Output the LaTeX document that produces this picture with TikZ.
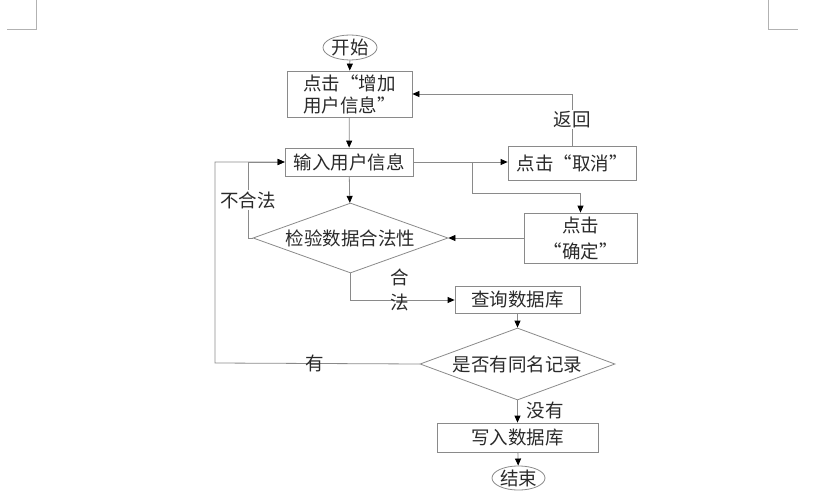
\documentclass[tikz,border=0pt]{standalone}
\usepackage{fontspec}
\setmainfont{Noto Sans CJK SC}
\usetikzlibrary{shapes.geometric,arrows.meta}
\definecolor{lc}{HTML}{8A8A8A}
\definecolor{tc}{HTML}{2A2A2A}
\begin{document}
\begin{tikzpicture}[x=1pt,y=-1pt,
  every node/.style={font=\fontsize{18.5}{22}\selectfont, text=tc},
  conn/.style={draw=lc, line width=0.8pt},
  arr/.style={conn, -{Triangle[length=7pt,width=6pt,color=black]}},
  boxs/.style={draw=lc, line width=0.8pt, rectangle, inner sep=0pt},
  term/.style={draw=lc, line width=0.8pt, ellipse, inner sep=0pt},
  dia/.style={draw=lc, line width=0.8pt, diamond, aspect=2.8, inner sep=0pt},
  lbl/.style={fill=white, inner sep=1pt},
  cornermark/.style={draw=black!30, line width=0.8pt}
]
\useasboundingbox (0,0) rectangle (821,497);
% corner marks
\coordinate (m1) at (7,29); \coordinate (m2) at (36,29); \coordinate (m3) at (36,0);
\coordinate (m4) at (768,0); \coordinate (m5) at (768,29); \coordinate (m6) at (798,29);
\draw[cornermark] (m1) -- (m2) -- (m3);
\draw[cornermark] (m4) -- (m5) -- (m6);

% nodes
\node[term, minimum width=54pt, minimum height=25pt] (start) at (350,47.5) {开始};
\node[boxs, minimum width=125pt, minimum height=46pt, align=left] (b1) at (349.5,94) {点击“增加\\用户信息”};
\node[boxs, minimum width=128pt, minimum height=28pt] (b2) at (349,162) {输入用户信息};
\node[boxs, minimum width=128pt, minimum height=34pt] (cancel) at (572,163) {点击“取消”};
\node[boxs, minimum width=113pt, minimum height=50pt, align=center,
      font=\fontsize{18.5}{26}\selectfont] (confirm) at (580.5,238) {点击\\“确定”};
\node[dia, minimum width=195pt, minimum height=70pt] (d1) at (350.5,238) {检验数据合法性};
\node[boxs, minimum width=125pt, minimum height=27pt] (query) at (517.5,299.5) {查询数据库};
\node[dia, minimum width=195pt, minimum height=72pt] (d2) at (517.5,364) {是否有同名记录};
\node[boxs, minimum width=161pt, minimum height=29pt] (write) at (517.5,437.5) {写入数据库};
\node[term, minimum width=53pt, minimum height=23pt] (end) at (518.5,478) {结束};

% helper coordinates
\coordinate (br) at (472,162);
\coordinate (brd) at (472,193);
\coordinate (inl) at (248,238);
\coordinate (outl) at (215,363);
\coordinate (dq) at (350.5,300);

% connectors
\draw[arr] (start) -- (b1);
\draw[arr] (b1) -- (b2);
\draw[arr] (b2.east) -- (b2.east -| cancel.west);
\draw[arr] (br) -- (brd) -| (confirm.north);
\draw[arr] (cancel.north) |- node[pos=0.25, lbl] {返回} (b1.east);
\draw[arr] (b2) -- (d1);
\draw[arr] (confirm.west) -- (d1.east);
\draw[arr] (d1.west) -- (inl) |- node[pos=0.25, lbl] {不合法} (b2.west);
\draw[arr] (d1.south) -- (dq) -- (dq -| query.west);
\node[align=center, inner sep=0pt, font=\fontsize{18.5}{25}\selectfont] (lh) at (400,290) {合\\法};
\draw[arr] (query) -- (d2);
\draw[arr] (d2.west) -- (outl) |- (b2.west);
\node[inner sep=0pt] (ly) at (315,363) {有};
\draw[arr] (d2.south) -- (write.north);
\node[inner sep=0pt] (ln) at (545,410) {没有};
\draw[arr] (write) -- (end);
\end{tikzpicture}
\end{document}
